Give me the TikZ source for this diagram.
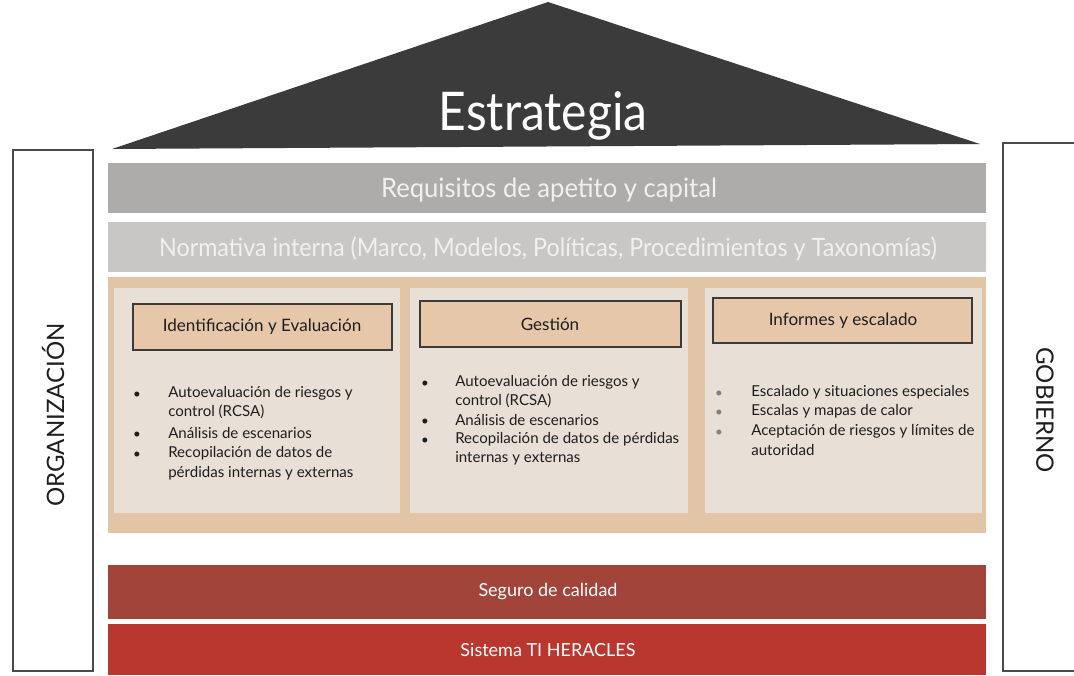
\documentclass[tikz,border=0pt]{standalone}
\usepackage{fontspec}
\setmainfont{Lato}
\usepackage{graphicx}
\definecolor{roofc}{HTML}{3B3B3B}
\definecolor{grayA}{HTML}{ADACAA}
\definecolor{grayB}{HTML}{C8C7C5}
\definecolor{tanc}{HTML}{E2C4A7}
\definecolor{panelc}{HTML}{E8DFD6}
\definecolor{headc}{HTML}{E6C7A9}
\definecolor{redA}{HTML}{A2443A}
\definecolor{redB}{HTML}{BA3730}
\definecolor{txt}{HTML}{1E1E1E}
\definecolor{lighttxt}{HTML}{F2F0EE}
\definecolor{sidec}{HTML}{4A4A4A}
\tikzset{
  sidebox/.style={draw=sidec, line width=1pt, fill=white},
  panel/.style={fill=panelc},
  headbox/.style={fill=headc, draw=roofc, line width=1.2pt},
  headtxt/.style={font=\fontsize{12.8}{14}\selectfont, text=txt, inner sep=0pt},
  li/.style={anchor=west, font=\fontsize{11.3}{13}\selectfont, text=txt, inner sep=0pt},
  bul/.style={font=\fontsize{10}{12}\selectfont, text=txt, inner sep=0pt},
  bartxt/.style={text=lighttxt, inner sep=0pt},
  redtxt/.style={text=white, inner sep=0pt, font=\fontsize{13.5}{15}\selectfont},
}
\begin{document}
\begin{tikzpicture}[x=0.75pt,y=-0.75pt]
\useasboundingbox[fill=white] (0,0) rectangle (1074,675);
% roof
\fill[roofc] (112,149) -- (548,2) -- (980,144) -- cycle;
\node[text=white, inner sep=0pt, font=\fontsize{40}{44}\selectfont] (estr) at (543,116) {\scalebox{0.9}[1]{Estrategia}};
% side boxes
\draw[sidebox] (13,150) rectangle (93,671);
\draw[sidebox] (1003,143) rectangle (1080,671);
\node[rotate=90, inner sep=0pt, text=txt, font=\fontsize{18}{20}\selectfont] (org) at (53,415) {ORGANIZACIÓN};
\node[rotate=-90, inner sep=0pt, text=txt, font=\fontsize{18}{20}\selectfont] (gob) at (1045,410) {GOBIERNO};
% gray bars
\fill[grayA] (108,163) rectangle (986,213);
\node[bartxt, font=\fontsize{20}{22}\selectfont] (req) at (549,190) {\scalebox{0.96}[1]{Requisitos de apetito y capital}};
\fill[grayB] (108,222) rectangle (986,272);
\node[bartxt, font=\fontsize{19}{21}\selectfont] (norm) at (548,249) {\scalebox{0.92}[1]{Normativa interna (Marco, Modelos, Políticas, Procedimientos y Taxonomías)}};
% tan panel
\fill[tanc] (108,277) rectangle (986,533);
\fill[panel] (114,288) rectangle (400,513);
\fill[panel] (410,288) rectangle (688,513);
\fill[panel] (705,288) rectangle (982,513);
% headers
\draw[headbox] (133,304) rectangle (392,350);
\node[headtxt] (h1) at (262,327) {Identificación y Evaluación};
\draw[headbox] (420,301) rectangle (681,347);
\node[headtxt] (h2) at (550,324) {Gestión};
\draw[headbox] (713,298) rectangle (972,343);
\node[headtxt] (h3) at (843,321) {Informes y escalado};
% column 1
\node[bul] (b11) at (137,395) {\textbullet};
\node[li] (t11) at (168,393) {Autoevaluación de riesgos y};
\node[li] (t12) at (168,412) {control (RCSA)};
\node[bul] (b12) at (137,435) {\textbullet};
\node[li] (t13) at (168,433) {Análisis de escenarios};
\node[bul] (b13) at (137,455) {\textbullet};
\node[li] (t14) at (168,453) {Recopilación de datos de};
\node[li] (t15) at (168,473) {pérdidas internas y externas};
% column 2
\node[bul] (b21) at (425,384) {\textbullet};
\node[li] (t21) at (455,382) {Autoevaluación de riesgos y};
\node[li] (t22) at (455,401) {control (RCSA)};
\node[bul] (b22) at (425,422) {\textbullet};
\node[li] (t23) at (455,420) {Análisis de escenarios};
\node[bul] (b23) at (425,441) {\textbullet};
\node[li] (t24) at (455,439) {Recopilación de datos de pérdidas};
\node[li] (t25) at (455,458) {internas y externas};
% column 3
\node[bul, text=gray] (b31) at (719,394) {\textbullet};
\node[li] (t31) at (751,392) {Escalado y situaciones especiales};
\node[bul, text=gray] (b32) at (719,413) {\textbullet};
\node[li] (t32) at (751,411) {Escalas y mapas de calor};
\node[bul, text=gray] (b33) at (719,433) {\textbullet};
\node[li] (t33) at (751,431) {Aceptación de riesgos y límites de};
\node[li] (t34) at (751,450) {autoridad};
% red bars
\fill[redA] (108,565) rectangle (986,619);
\node[redtxt] (seg) at (548,592) {Seguro de calidad};
\fill[redB] (108,624) rectangle (986,675);
\node[redtxt] (sis) at (548,650) {Sistema TI HERACLES};
\end{tikzpicture}
\end{document}
